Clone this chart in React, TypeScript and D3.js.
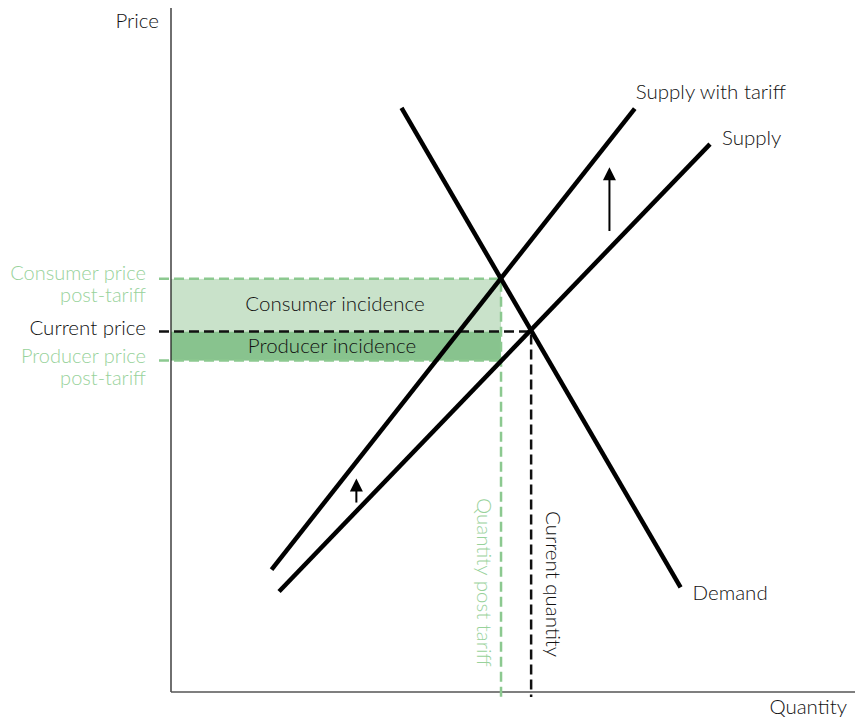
import React from "react";
import * as d3 from "d3";

// Curves (quantity, price) endpoints in data units
const demandQ = [33.7, 74.5];
const demandP = [85.4, 15.3];
const supplyQ = [15.8, 78.8];
const supplyP = [14.7, 80.1];
const tariffQ = [14.7, 67.8];
const tariffP = [17.9, 85.3];

// Equilibria
const currentQ = 52.65;
const currentP = 52.7;
const postTariffQ = 48.25;
const consumerP = 60.4;
const producerP = 48.45;

// Shift arrows: quantity, price from, price to
const arrowQ = [64.1, 27.1];
const arrowFrom = [67.4, 27.7];
const arrowTo = [76.7, 31.2];

const W = 855;
const H = 720;
const FONT = "Lato, 'Open Sans', sans-serif";
const GREEN_TEXT = "#98d29b";
const GREEN_LINE = "#8cc990";
const FILL_LIGHT = "#c9e2ca";
const FILL_DARK = "#88c38e";

export default function App() {
  const x = d3.scaleLinear().domain([0, 100]).range([171, 855]);
  const y = d3.scaleLinear().domain([0, 100]).range([692, 8]);
  const line = d3
    .line<[number, number]>()
    .x((d) => x(d[0]))
    .y((d) => y(d[1]));

  const curves = [
    { q: demandQ, p: demandP },
    { q: supplyQ, p: supplyP },
    { q: tariffQ, p: tariffP },
  ];

  const leftX = 159;
  const bottomY = 697;
  const dash = "10,5";
  const fs = 20.5;
  const fsSide = 20;
  const tc = "#111";

  return (
    <svg width={W} height={H} style={{ position: "absolute", left: 0, top: 0 }}>
      <rect width={W} height={H} fill="#fff" />
      {/* incidence areas */}
      <rect
        x={x(0)}
        y={y(consumerP)}
        width={x(postTariffQ) - x(0)}
        height={y(currentP) - y(consumerP)}
        fill={FILL_LIGHT}
      />
      <rect
        x={x(0)}
        y={y(currentP)}
        width={x(postTariffQ) - x(0)}
        height={y(producerP) - y(currentP)}
        fill={FILL_DARK}
      />
      <text x={(x(0) + x(postTariffQ)) / 2 - 1} y={y(consumerP) + 32} textAnchor="middle" fontFamily={FONT} fontWeight={300} fontSize={fs} fill={tc}>
        Consumer incidence
      </text>
      <text x={(x(0) + x(postTariffQ)) / 2 - 4} y={(y(currentP) + y(producerP)) / 2 + 7} textAnchor="middle" fontFamily={FONT} fontWeight={300} fontSize={fs} fill={tc}>
        Producer incidence
      </text>

      {/* axes */}
      <line x1={x(0)} y1={y(100)} x2={x(0)} y2={y(0)} stroke="#222" strokeWidth={1.3} />
      <line x1={x(0)} y1={y(0)} x2={x(100)} y2={y(0)} stroke="#555" strokeWidth={1.3} />
      <text x={159} y={28} textAnchor="end" fontFamily={FONT} fontWeight={300} fontSize={fs} fill={tc}>Price</text>
      <text x={847} y={714} textAnchor="end" fontFamily={FONT} fontWeight={300} fontSize={fs} fill={tc}>Quantity</text>

      {/* dashed guides */}
      <path d={`M${leftX},${y(consumerP)}H${x(postTariffQ)}V${bottomY}`} fill="none" stroke={GREEN_LINE} strokeWidth={2.5} strokeDasharray={dash} />
      <path d={`M${leftX},${y(producerP)}H${x(postTariffQ)}`} fill="none" stroke={GREEN_LINE} strokeWidth={2.5} strokeDasharray={dash} />
      <path d={`M${leftX},${y(currentP)}H${x(currentQ)}V${bottomY}`} fill="none" stroke="#111" strokeWidth={2.5} strokeDasharray={dash} />

      {/* curves */}
      {curves.map((c, i) => (
        <path
          key={i}
          d={line([
            [c.q[0], c.p[0]],
            [c.q[1], c.p[1]],
          ]) as string}
          fill="none"
          stroke="#000"
          strokeWidth={4.5}
        />
      ))}

      {/* arrows */}
      {arrowQ.map((q, i) => {
        const ax = x(q);
        const y0 = y(arrowFrom[i]);
        const y1 = y(arrowTo[i]);
        return (
          <g key={i}>
            <line x1={ax} y1={y0} x2={ax} y2={y1 + 10} stroke="#000" strokeWidth={2} />
            <path d={`M${ax},${y1}L${ax + 6.5},${y1 + 13}L${ax - 6.5},${y1 + 13}Z`} fill="#000" />
          </g>
        );
      })}

      {/* curve labels */}
      <text x={x(tariffQ[1]) + 1} y={y(tariffP[1]) - 10} fontFamily={FONT} fontWeight={300} fontSize={fs} fill={tc}>Supply with tariff</text>
      <text x={x(supplyQ[1]) + 12} y={y(supplyP[1]) + 1} fontFamily={FONT} fontWeight={300} fontSize={fs} fill={tc}>Supply</text>
      <text x={x(demandQ[1]) + 12} y={y(demandP[1]) + 13} fontFamily={FONT} fontWeight={300} fontSize={fs} fill={tc}>Demand</text>

      {/* price labels */}
      <text x={146} y={y(consumerP) + 1} textAnchor="end" fontFamily={FONT} fontWeight={300} fontSize={fsSide} fill={GREEN_TEXT}>Consumer price</text>
      <text x={146} y={y(consumerP) + 23} textAnchor="end" fontFamily={FONT} fontWeight={300} fontSize={fsSide} fill={GREEN_TEXT}>post-tariff</text>
      <text x={146} y={y(currentP) + 3.5} textAnchor="end" fontFamily={FONT} fontWeight={300} fontSize={fs} fill={tc}>Current price</text>
      <text x={146} y={y(producerP) + 2} textAnchor="end" fontFamily={FONT} fontWeight={300} fontSize={fsSide} fill={GREEN_TEXT}>Producer price</text>
      <text x={146} y={y(producerP) + 24} textAnchor="end" fontFamily={FONT} fontWeight={300} fontSize={fsSide} fill={GREEN_TEXT}>post-tariff</text>

      {/* quantity labels (vertical) */}
      <text transform={`translate(${x(postTariffQ) - 24},498) rotate(90)`} fontFamily={FONT} fontWeight={300} fontSize={fs} fill={GREEN_TEXT}>Quantity post tariff</text>
      <text transform={`translate(${x(currentQ) + 15},511) rotate(90)`} fontFamily={FONT} fontWeight={300} fontSize={fs} fill={tc}>Current quantity</text>
    </svg>
  );
}
